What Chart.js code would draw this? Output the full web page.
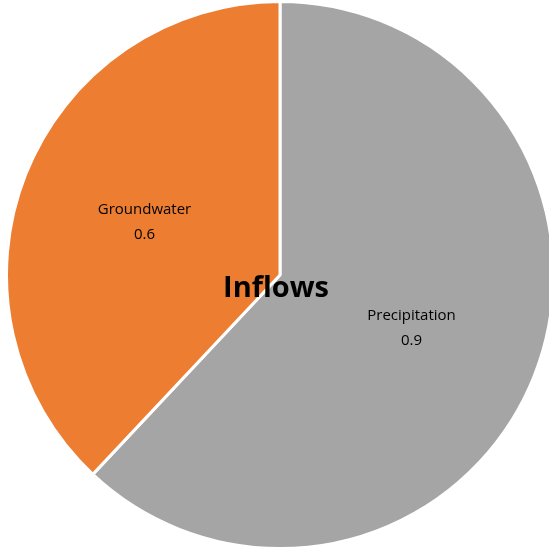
<!DOCTYPE html>
<html>
<head>
<meta charset="utf-8">
<script src="https://cdn.jsdelivr.net/npm/chart.js@4/dist/chart.umd.min.js"></script>
<style>
  html, body { margin: 0; padding: 0; overflow: hidden; background: #fff; }
  #wrap { width: 560px; height: 552px; }
</style>
</head>
<body>
<div id="wrap"><canvas id="chartInflows" width="560" height="552"></canvas></div>
<script>
// dados do grafico
var categories = ["Precipitation", "Groundwater"];
var inflowValues = [0.93, 0.57];
var sliceColors = ["#A5A5A5", "#ED7D31"];
var chartTitle = "Inflows";

// rotulos dentro das fatias + titulo no centro
var labelPlugin = {
    id: 'sliceLabels',
    afterDraw: function (chart) {
        var ctx = chart.ctx;
        var meta = chart.getDatasetMeta(0);
        ctx.save();
        ctx.fillStyle = "#000";
        ctx.textAlign = "center";
        ctx.textBaseline = "middle";
        ctx.font = "15px 'Open Sans', sans-serif";
        meta.data.forEach(function (arc, i) {
            var mid = (arc.startAngle + arc.endAngle) / 2;
            var r = arc.outerRadius * 0.525;
            var x = arc.x + Math.cos(mid) * r;
            var y = arc.y + Math.sin(mid) * r;
            ctx.fillText(categories[i], x - 2, y - 12);
            ctx.fillText(inflowValues[i].toFixed(1), x - 2, y + 13);
        });
        var c = meta.data[0];
        ctx.font = "bold 29px 'Open Sans', sans-serif";
        ctx.fillText(chartTitle, c.x - 4, c.y + 14);
        ctx.restore();
    }
};

var pieData = {
    labels: categories,
    datasets: [
        {
            data: inflowValues,
            backgroundColor: sliceColors,
            borderColor: "#fff",
            borderWidth: 3
        }
    ]
};

var pieOptions = {
    responsive: false,
    animation: false,
    layout: { padding: { top: 0, bottom: 2, left: 0, right: 0 } },
    plugins: {
        legend: { display: false },
        tooltip: { enabled: false },
        title: { display: false }
    }
};

var ctx1 = document.getElementById("chartInflows").getContext("2d");
new Chart(ctx1, {type: 'pie', data: pieData, options: pieOptions, plugins: [labelPlugin]});
</script>
</body>
</html>
